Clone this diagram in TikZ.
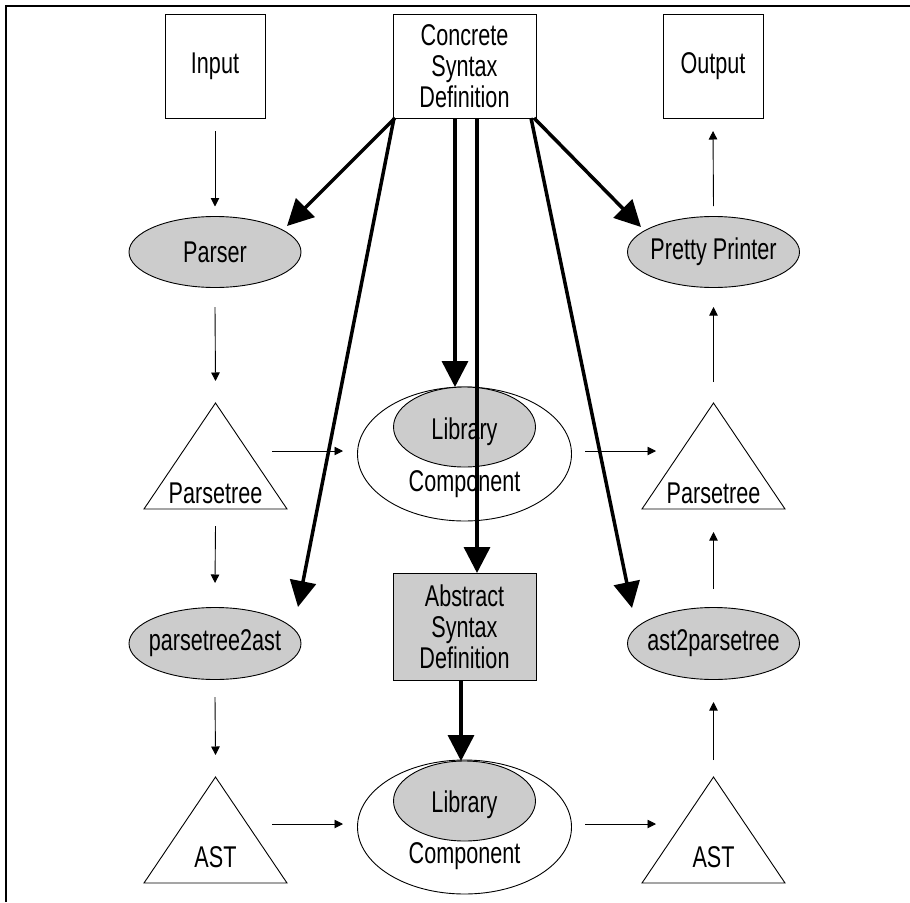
\documentclass[tikz,border=0pt]{standalone}
\usepackage{fontspec}
\setmainfont{Liberation Sans}[FakeStretch=0.72]
\usetikzlibrary{arrows.meta,shapes.geometric}
\definecolor{shade}{RGB}{204,204,204}
\begin{document}
\begin{tikzpicture}[x=1pt,y=-1pt,
  every node/.style={font=\fontsize{30}{31}\selectfont, inner sep=0pt, outer sep=0pt},
  plainbox/.style={draw, line width=0.9pt, rectangle, minimum width=100pt, minimum height=104pt, align=center},
  greybox/.style={plainbox, fill=shade, minimum width=143pt, minimum height=107pt},
  grayoval/.style={draw, line width=0.9pt, ellipse, fill=shade, minimum width=172pt, minimum height=71pt},
  ringoval/.style={draw, line width=0.9pt, ellipse, minimum width=214pt, minimum height=134pt},
  coreoval/.style={draw, line width=0.9pt, ellipse, fill=shade, minimum width=142pt, minimum height=80pt},
  triframe/.style={rectangle, minimum width=143pt, minimum height=106pt},
  shapeline/.style={line width=0.9pt, line join=miter},
  thinarrow/.style={line width=0.9pt, -{Triangle[length=8.5pt,width=8.5pt]}},
  thickarrow/.style={line width=3.5pt, -{Triangle[length=26pt,width=26pt]}},
]
\useasboundingbox (0,0) rectangle (910,902);

% frame
\draw[line width=2pt] (5.5,902) -- (5.5,5.5) -- (910,5.5);

% top row: input, concrete syntax, output
\node[plainbox] (in) at (215,66) {Input};
\node[plainbox, minimum width=143pt] (csd) at (464.5,66) {Concrete\\Syntax\\Definition};
\node[plainbox] (out) at (713,66) {Output};

% parser and pretty printer
\node[grayoval] (parser) at (215,252) {};
\node (parser-t) at (parser.center) {Parser};
\node[grayoval] (pp) at (713.5,252) {};
\node (pp-t) at (pp.center) {Pretty Printer};

% parse trees
\node[triframe] (pt1) at (215.5,456) {};
\draw[shapeline] (pt1.north) -- (pt1.south west) -- (pt1.south east) -- cycle;
\node[anchor=base] (pt1-t) at ([yshift=6pt]pt1.south) {Parsetree};
\node[triframe] (pt2) at (713.5,456) {};
\draw[shapeline] (pt2.north) -- (pt2.south west) -- (pt2.south east) -- cycle;
\node[anchor=base] (pt2-t) at ([yshift=6pt]pt2.south) {Parsetree};

% first library component
\node[ringoval] (lib1) at (464.5,454) {};
\node[coreoval] (lib1in) at (464.5,427) {};
\node[anchor=base] (lib1-a) at (464.5,439) {Library};
\node[anchor=base] (lib1-b) at (464.5,491) {Component};

% conversions and abstract syntax
\node[grayoval, minimum height=72pt] (p2a) at (215,643.5) {};
\node (p2a-t) at (p2a.center) {parsetree2ast};
\node[greybox] (abs) at (464.5,626.5) {Abstract\\Syntax\\Definition};
\node[grayoval, minimum height=72pt] (a2p) at (713.5,643.5) {};
\node (a2p-t) at (a2p.center) {ast2parsetree};

% abstract syntax trees
\node[triframe] (ast1) at (215.5,830) {};
\draw[shapeline] (ast1.north) -- (ast1.south west) -- (ast1.south east) -- cycle;
\node[anchor=base] (ast1-t) at ([yshift=16pt]ast1.south) {AST};
\node[triframe] (ast2) at (713.5,830) {};
\draw[shapeline] (ast2.north) -- (ast2.south west) -- (ast2.south east) -- cycle;
\node[anchor=base] (ast2-t) at ([yshift=16pt]ast2.south) {AST};

% second library component
\node[ringoval] (lib2) at (464.5,827) {};
\node[coreoval] (lib2in) at (464.5,801) {};
\node[anchor=base] (lib2-a) at (464.5,812) {Library};
\node[anchor=base] (lib2-b) at (464.5,863) {Component};

% data flow, left column
\draw[thinarrow] ([yshift=-13pt]in.south) -- ([yshift=10pt]parser.north);
\draw[thinarrow] ([yshift=-19.5pt]parser.south) -- ([yshift=22pt]pt1.north);
\draw[thinarrow] ([yshift=-17pt]pt1.south) -- ([yshift=24.5pt]p2a.north);
\draw[thinarrow] ([yshift=-17.5pt]p2a.south) -- ([yshift=22pt]ast1.north);

% data flow, right column
\draw[thinarrow] ([yshift=17pt]ast2.north) -- ([yshift=-22.5pt]a2p.south);
\draw[thinarrow] ([yshift=18.5pt]a2p.north) -- ([yshift=-23pt]pt2.south);
\draw[thinarrow] ([yshift=21pt]pt2.north) -- ([yshift=-19.5pt]pp.south);
\draw[thinarrow] ([yshift=10.5pt]pp.north) -- ([yshift=-13pt]out.south);

% data flow through the library components
\draw[thinarrow] ([shift={(56.5pt,5pt)}]pt1.center) -- ([shift={(-14.5pt,3pt)}]lib1.west);
\draw[thinarrow] ([shift={(13.5pt,3pt)}]lib1.east) -- ([shift={(-57.5pt,5pt)}]pt2.center);
\draw[thinarrow] ([shift={(56.5pt,6pt)}]ast1.center) -- ([shift={(-14.5pt,3pt)}]lib2.west);
\draw[thinarrow] ([shift={(13.5pt,3pt)}]lib2.east) -- ([shift={(-57.5pt,6pt)}]ast2.center);

% generation from the concrete syntax definition
\draw[thickarrow] ([xshift=2pt]csd.south west) -- ([shift={(72pt,26pt)}]parser.center);
\draw[thickarrow] ([xshift=1pt]csd.south west) -- ([shift={(83pt,36.5pt)}]p2a.center);
\draw[thickarrow] ([xshift=-9.5pt]csd.south) -- ([xshift=-9.5pt]lib1in.north);
\draw[thickarrow] ([xshift=12.5pt]csd.south) -- ([xshift=12.5pt]abs.north);
\draw[thickarrow] ([xshift=-2pt]csd.south east) -- ([shift={(-72.5pt,25pt)}]pp.center);
\draw[thickarrow] ([xshift=-5pt]csd.south east) -- ([shift={(-81.5pt,35.5pt)}]a2p.center);
\draw[thickarrow] ([xshift=-3.5pt]abs.south) -- ([xshift=-3.5pt]lib2in.north);
\end{tikzpicture}
\end{document}
